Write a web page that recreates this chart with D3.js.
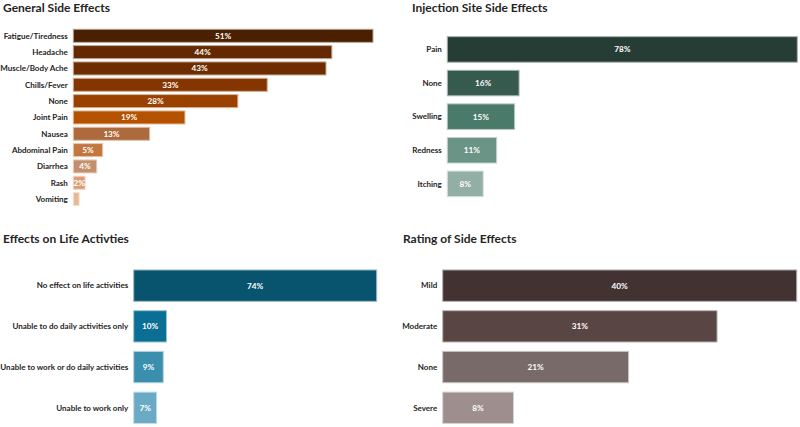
<!DOCTYPE html>
<html>
<head>
<meta charset="utf-8">
<script src="https://cdn.jsdelivr.net/npm/d3@7"></script>
<style>
  html, body { margin: 0; padding: 0; background: #fff; }
  svg { display: block; font-family: Lato, "Noto Sans", sans-serif; }
</style>
</head>
<body>
<svg id="chart" width="800" height="427"></svg>
<script>
// ---- Data ----
const generalCategories = ["Fatigue/Tiredness","Headache","Muscle/Body Ache","Chills/Fever","None","Joint Pain","Nausea","Abdominal Pain","Diarrhea","Rash","Vomiting"];
const generalValues = [51,44,43,33,28,19,13,5,4,2,1];
const generalColors = ["#4b2000","#642900","#6e2d00","#853500","#9a4100","#b55200","#ad6a3c","#c4763f","#c58e6c","#dc9c74","#e6b897"];

const injectionCategories = ["Pain","None","Swelling","Redness","Itching"];
const injectionValues = [78,16,15,11,8];
const injectionColors = ["#263d35","#365a4e","#4a7a69","#6b9486","#93aea4"];

const lifeCategories = ["No effect on life activities","Unable to do daily activities only","Unable to work or do daily activities","Unable to work only"];
const lifeValues = [74,10,9,7];
const lifeColors = ["#08546e","#0b6e94","#3a8fae","#6aaac4"];

const ratingCategories = ["Mild","Moderate","None","Severe"];
const ratingValues = [40,31,21,8];
const ratingColors = ["#423232","#5a4545","#796a6a","#9e8e8e"];

const panels = [
  {title:"General Side Effects", cats:generalCategories, vals:generalValues, cols:generalColors,
   tx:3, ty:12.3, x0:73.3, x1:373, y0:26, y1:208.9, pad:0.2, minLabel:2},
  {title:"Injection Site Side Effects", cats:injectionCategories, vals:injectionValues, cols:injectionColors,
   tx:412, ty:12.3, x0:447.3, x1:797.3, y0:28.6, y1:204.7, pad:0.24, minLabel:2},
  {title:"Effects on Life Activties", cats:lifeCategories, vals:lifeValues, cols:lifeColors,
   tx:3, ty:242.7, x0:133.7, x1:376.7, y0:260.6, y1:432.8, pad:0.23, minLabel:2},
  {title:"Rating of Side Effects", cats:ratingCategories, vals:ratingValues, cols:ratingColors,
   tx:403, ty:242.7, x0:442.7, x1:796.7, y0:260.6, y1:432.8, pad:0.23, minLabel:2}
];

const svg = d3.select("#chart");

panels.forEach(p => {
  const g = svg.append("g");
  const data = p.cats.map((c,i) => ({cat:c, val:p.vals[i], col:p.cols[i]}));
  const x = d3.scaleLinear().domain([0, d3.max(p.vals)]).range([p.x0, p.x1]);
  const y = d3.scaleBand().domain(p.cats).range([p.y0, p.y1]).padding(p.pad);

  g.append("text")
    .attr("x", p.tx).attr("y", p.ty)
    .attr("font-size", 12).attr("font-weight", 700)
    .attr("fill", "#252423")
    .text(p.title);

  g.selectAll("rect").data(data).enter().append("rect")
    .attr("x", x(0))
    .attr("y", d => y(d.cat))
    .attr("width", d => x(d.val) - x(0))
    .attr("height", y.bandwidth())
    .attr("fill", d => d.col)
    .attr("stroke", d => d3.interpolateRgb(d.col, "#ffffff")(0.6))
    .attr("stroke-width", 1);

  g.selectAll("text.cat").data(data).enter().append("text")
    .attr("class","cat")
    .attr("x", x(0) - 5.5)
    .attr("y", d => y(d.cat) + y.bandwidth()/2)
    .attr("dy", "0.35em")
    .attr("text-anchor", "end")
    .attr("font-size", 8).attr("font-weight", 700)
    .attr("fill", "#252423")
    .text(d => d.cat);

  g.selectAll("text.val").data(data.filter(d => d.val >= p.minLabel)).enter().append("text")
    .attr("class","val")
    .attr("x", d => (x(0) + x(d.val))/2)
    .attr("y", d => y(d.cat) + y.bandwidth()/2)
    .attr("dy", "0.35em")
    .attr("text-anchor", "middle")
    .attr("font-size", 8.2).attr("font-weight", 700)
    .attr("fill", "#ffffff")
    .text(d => d.val + "%");
});
</script>
</body>
</html>
